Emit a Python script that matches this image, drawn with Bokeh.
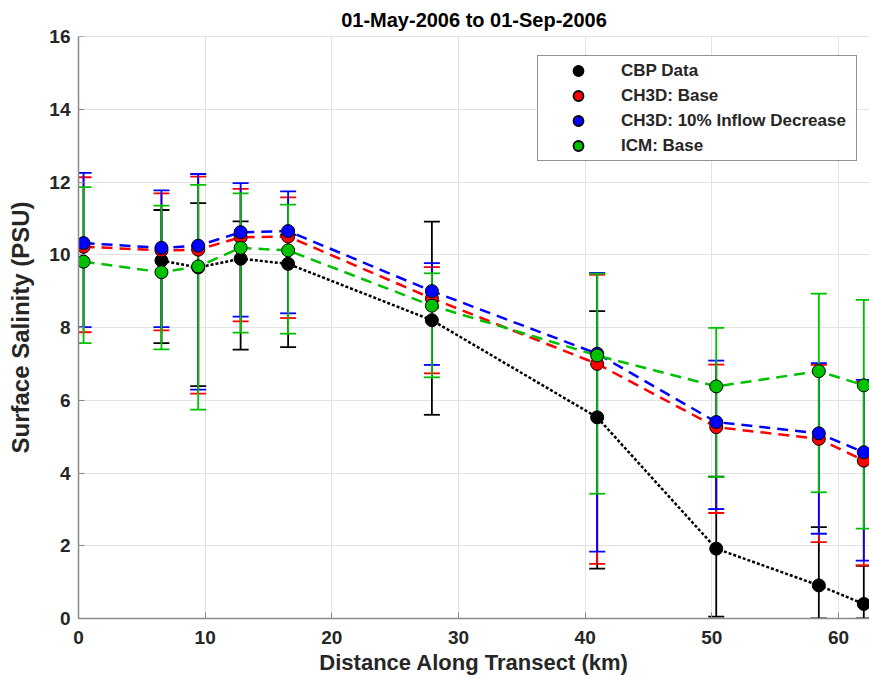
import math
from bokeh.plotting import figure
from bokeh.models import Range1d, Span, Legend, LegendItem, FixedTicker
from bokeh.embed import file_html
from bokeh.resources import INLINE

NaN = float("nan")

# ---------------- data ----------------
title_text = "01-May-2006 to 01-Sep-2006"
x_label = "Distance Along Transect (km)"
y_label = "Surface Salinity (PSU)"
x_ticks = [0, 10, 20, 30, 40, 50, 60]
y_ticks = [0, 2, 4, 6, 8, 10, 12, 14, 16]

distance_km = [0.4, 6.55, 9.45, 12.8, 16.55, 27.9, 40.95, 50.35, 58.45, 62.0]

cbp_mean  = [NaN, 9.84, 9.65, 9.89, 9.75, 8.20, 5.53, 1.92, 0.91, 0.40]
cbp_upper = [NaN, 11.23, 11.42, 10.92, 10.55, 10.91, 8.45, 3.90, 2.51, 1.45]
cbp_lower = [NaN, 7.57, 6.39, 7.39, 7.46, 5.60, 1.37, 0.05, 0.00, 0.00]

ch3d_base_mean  = [10.22, 10.12, 10.14, 10.48, 10.50, 8.80, 7.00, 5.26, 4.94, 4.34]
ch3d_base_upper = [12.13, 11.69, 12.15, 11.81, 11.58, 9.66, 9.45, 6.98, 6.97, 6.50]
ch3d_base_lower = [7.87, 7.92, 6.18, 8.17, 8.26, 6.74, 1.50, 2.90, 2.10, 1.46]

ch3d_dec_mean  = [10.32, 10.19, 10.25, 10.62, 10.65, 9.00, 7.28, 5.40, 5.09, 4.57]
ch3d_dec_upper = [12.25, 11.77, 12.22, 11.97, 11.74, 9.77, 9.50, 7.09, 7.02, 6.56]
ch3d_dec_lower = [8.01, 8.01, 6.29, 8.30, 8.39, 6.97, 1.84, 3.01, 2.33, 1.59]

icm_mean  = [9.81, 9.52, 9.68, 10.19, 10.12, 8.60, 7.23, 6.38, 6.80, 6.41]
icm_upper = [11.86, 11.35, 11.92, 11.69, 11.38, 9.49, 9.48, 7.99, 8.93, 8.76]
icm_lower = [7.57, 7.40, 5.74, 7.86, 7.83, 6.63, 3.43, 3.89, 3.47, 2.47]

series_names = ["CBP Data", "CH3D: Base", "CH3D: 10% Inflow Decrease", "ICM: Base"]
series_colors = ["#000000", "#ff0000", "#0000ff", "#00c000"]
series_dash = ["3 2", "11 7", "11 7", "11 7"]
series_means = [cbp_mean, ch3d_base_mean, ch3d_dec_mean, icm_mean]
series_uppers = [cbp_upper, ch3d_base_upper, ch3d_dec_upper, icm_upper]
series_lowers = [cbp_lower, ch3d_base_lower, ch3d_dec_lower, icm_lower]

FONT = "Liberation Sans"
TXT = "#262626"
AX = "#8a8a8a"

p = figure(width=869, height=684, output_backend="svg", toolbar_location=None,
           x_range=Range1d(0, 62.45), y_range=Range1d(0, 16),
           min_border_left=78, min_border_right=0, min_border_top=36,
           min_border_bottom=66, title=title_text)
p.outline_line_color = None
p.background_fill_color = "white"
p.border_fill_color = "white"

p.title.align = "center"
p.title.text_font = FONT
p.title.text_font_style = "bold"
p.title.text_font_size = "20px"
p.title.text_color = "#000000"
p.title.standoff = 12

p.xaxis.ticker = FixedTicker(ticks=x_ticks)
p.yaxis.ticker = FixedTicker(ticks=y_ticks)
for ax in (p.xaxis[0], p.yaxis[0]):
    ax.axis_line_color = AX
    ax.axis_line_width = 1.5
    ax.major_tick_line_color = AX
    ax.major_tick_in = 6
    ax.major_tick_out = 0
    ax.minor_tick_line_color = None
    ax.major_label_text_font = FONT
    ax.major_label_text_font_style = "bold"
    ax.major_label_text_font_size = "19px"
    ax.major_label_text_color = TXT
    ax.axis_label_text_font = FONT
    ax.axis_label_text_font_style = "bold"
    ax.axis_label_text_color = TXT
p.xaxis.major_label_standoff = 12
p.yaxis.major_label_standoff = 8
p.xaxis.axis_label = x_label
p.yaxis.axis_label = y_label
p.xaxis.axis_label_text_font_size = "22px"
p.yaxis.axis_label_text_font_size = "24px"
p.xaxis.axis_label_standoff = 3
p.yaxis.axis_label_standoff = 12

p.xgrid.ticker = FixedTicker(ticks=x_ticks)
p.ygrid.ticker = FixedTicker(ticks=y_ticks)
p.grid.grid_line_color = "#e3e3e3"
p.grid.grid_line_width = 1

p.add_layout(Span(location=16, dimension="width", line_color="#c8c8c8", line_width=1))

# error bars
for c, up, lo in zip(series_colors, series_uppers, series_lowers):
    p.segment(x0=distance_km, y0=lo, x1=distance_km, y1=up, line_color=c, line_width=1.8)
    p.scatter(distance_km, up, marker="dash", size=16, line_color=c, line_width=1.8)
    p.scatter(distance_km, lo, marker="dash", size=16, line_color=c, line_width=1.8)

# lines
for c, m, d in zip(series_colors, series_means, series_dash):
    p.line(distance_km, m, line_color=c, line_width=2.5, line_dash=d)

# markers (+ hidden twins used only for the legend swatches)
items = []
for name, c, m in zip(series_names, series_colors, series_means):
    p.scatter(distance_km, m, marker="circle", size=13, fill_color=c,
              line_color="#000000", line_width=1)
    swatch = p.scatter(distance_km, m, marker="circle", size=13, fill_color=c,
                       line_color="#000000", line_width=1.8, visible=False)
    items.append(LegendItem(label=name, renderers=[swatch]))

legend = Legend(items=items, location=(459, 457), orientation="vertical",
                glyph_width=76, glyph_height=25, label_height=25, spacing=0,
                padding=2, margin=0, label_standoff=5, label_width=233,
                label_text_font=FONT, label_text_font_style="bold",
                label_text_font_size="17px", label_text_color=TXT,
                border_line_color="#262626", border_line_width=1,
                background_fill_color="white", background_fill_alpha=1.0)
p.add_layout(legend)

open("out.html", "w").write(file_html(p, INLINE))
